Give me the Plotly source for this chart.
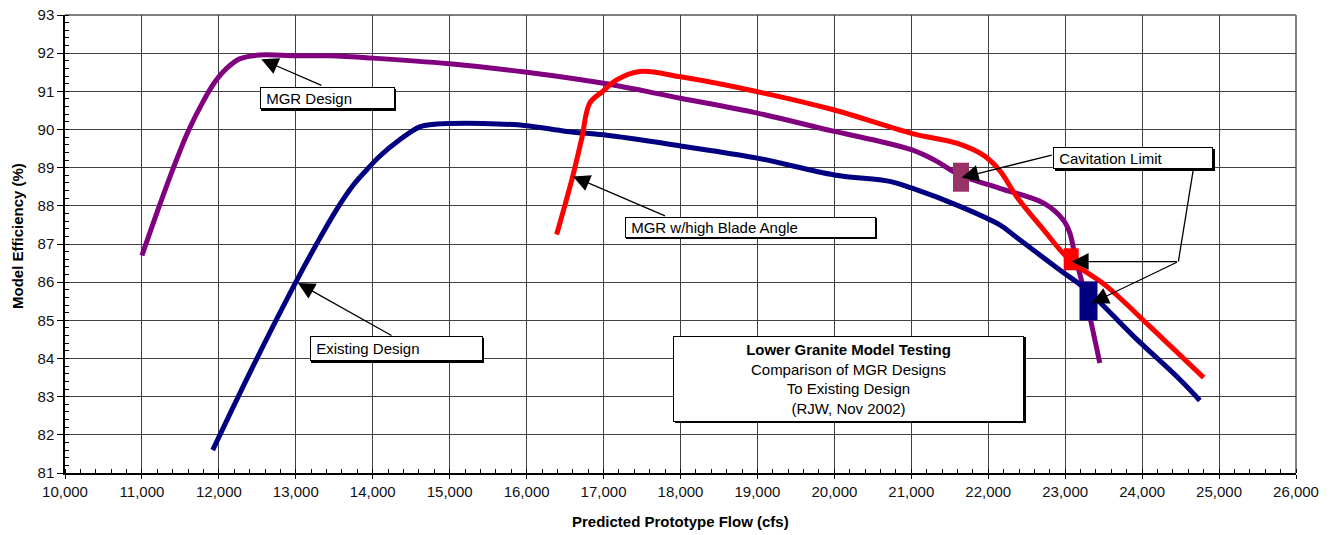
import plotly.graph_objects as go

# ---- Model test results: predicted prototype flow (cfs) vs model efficiency (%) ----
mgr_flow = [11000, 11200, 11400, 11600, 11800, 11950, 12100, 12270, 12530, 13000,
            13440, 14000, 15000, 16000, 17000, 18000, 19000, 20000, 20500, 21000, 21300,
            21640, 22150, 22720, 22975, 23060, 23130, 23210, 23320, 23450]
mgr_eff = [86.70, 87.85, 88.95, 89.95, 90.75, 91.25, 91.60, 91.85, 91.95, 91.93,
           91.93, 91.87, 91.72, 91.50, 91.21, 90.82, 90.43, 89.95, 89.73, 89.47, 89.20,
           88.80, 88.46, 88.07, 87.63, 87.29, 86.67, 86.06, 85.10, 83.88]

existing_flow = [11920, 12440, 13000, 13270, 13530, 13750, 13920, 14090, 14350, 14610, 14800,
                 15000, 15430, 16000, 16520, 17000, 18000, 19000, 20000, 20720, 21000, 21640,
                 22150, 22370, 22930, 23280, 23890, 24490, 24750]
existing_eff = [81.60, 83.78, 86.00, 87.00, 87.90, 88.55, 88.94, 89.30, 89.73, 90.07, 90.14,
                90.16, 90.16, 90.10, 89.95, 89.86, 89.57, 89.25, 88.81, 88.64, 88.47, 87.98,
                87.50, 87.17, 86.32, 85.80, 84.58, 83.45, 82.90]

blade_flow = [16390, 16600, 16720, 16820, 16990, 17170, 17470, 18000, 19000, 20000, 21000,
              21590, 21940, 22150, 22370, 22720, 23060, 23540, 24100, 24800]
blade_eff = [87.25, 88.78, 89.80, 90.69, 91.00, 91.30, 91.52, 91.38, 90.99, 90.51, 89.90,
             89.64, 89.32, 88.92, 88.24, 87.37, 86.58, 85.89, 84.84, 83.50]

# Cavitation limit points (MGR, MGR w/high blade angle, existing)
cav_flow = [21646, 23078, 23303]
cav_eff = [88.75, 86.60, 85.51]

x_ticks = list(range(10000, 26001, 1000))
y_ticks = list(range(81, 94))

FONT = "Liberation Sans, Arial, Helvetica, sans-serif"
PURPLE, NAVY, RED = "#800080", "#000080", "#FF0000"
CAV_COLORS = ["#993366", RED, NAVY]
CAV_BOX = [(16, 29), (15, 22), (18, 39)]  # marker width/height in px

W, H = 1335, 535
M_L, M_R, M_T, M_B = 65, 39, 15, 62
PLOT_W, PLOT_H = W - M_L - M_R, H - M_T - M_B

fig = go.Figure()
for fx, fy, col in [(existing_flow, existing_eff, NAVY),
                    (mgr_flow, mgr_eff, PURPLE),
                    (blade_flow, blade_eff, RED)]:
    fig.add_trace(go.Scatter(x=fx, y=fy, mode="lines",
                             line=dict(color=col, width=5, shape="spline", smoothing=1.0),
                             showlegend=False, hoverinfo="skip"))

shapes = []
for fx, fy, col, (w, h) in zip(cav_flow, cav_eff, CAV_COLORS, CAV_BOX):
    shapes.append(dict(type="rect", xref="x", yref="y", layer="above",
                       xsizemode="pixel", ysizemode="pixel",
                       xanchor=fx, yanchor=fy,
                       x0=-w / 2, x1=w / 2, y0=-h / 2, y1=h / 2,
                       fillcolor=col, line=dict(width=0)))

# plot frame: grey top and right edges
shapes.append(dict(type="line", xref="paper", yref="paper", x0=0, x1=1, y0=1, y1=1,
                   line=dict(color="#808080", width=2), layer="below"))
shapes.append(dict(type="line", xref="paper", yref="paper", x0=1, x1=1, y0=0, y1=1,
                   line=dict(color="#808080", width=2), layer="below"))
# connector leg from the Cavitation Limit label
shapes.append(dict(type="line", xref="x", yref="y", x0=24666, y0=88.96, x1=24471, y1=86.54,
                   line=dict(color="black", width=1.3), layer="above"))

annotations = []


def text_box(x, y, text, w, h, align="left"):
    # drop shadow, then the white label box
    annotations.append(dict(x=x, y=y, xref="x", yref="y", xanchor="left", yanchor="top",
                            text=" ", showarrow=False, width=w, height=h, borderpad=1,
                            borderwidth=1, bordercolor="black", bgcolor="black",
                            xshift=1.5, yshift=-1.5, font=dict(family=FONT, size=15)))
    annotations.append(dict(x=x, y=y, xref="x", yref="y", xanchor="left", yanchor="top",
                            text=text, showarrow=False, width=w, height=h, borderpad=1,
                            borderwidth=1, bordercolor="black", bgcolor="white",
                            align=align, valign="middle",
                            font=dict(family=FONT, size=15, color="black")))


def arrow(tip_x, tip_y, tail_x, tail_y):
    annotations.append(dict(x=tip_x, y=tip_y, ax=tail_x, ay=tail_y, xref="x", yref="y",
                            axref="x", ayref="y", text="", showarrow=True,
                            arrowhead=2, arrowsize=2.6, arrowwidth=1.3, arrowcolor="black",
                            standoff=0, startstandoff=0))


arrow(12551, 91.84, 13352, 91.14)
arrow(13027, 85.98, 14263, 84.58)
arrow(16603, 88.77, 17818, 87.72)
arrow(21654, 88.74, 22845, 89.34)
arrow(23085, 86.54, 24471, 86.54)
arrow(23345, 85.45, 24471, 86.54)

text_box(12529, 91.11, "\u00a0MGR Design", 131, 18)
text_box(13180, 84.58, "\u00a0Existing Design", 169, 21)
text_box(17275, 87.72, "\u00a0MGR w/high Blade Angle", 247, 17)
text_box(22845, 89.54, "\u00a0Cavitation Limit", 156, 18)
text_box(17905, 84.60,
         "<b>Lower Granite Model Testing</b><br>Comparison of MGR Designs<br>"
         "To Existing Design<br>(RJW, Nov 2002)", 347, 82, align="center")

# axis titles
annotations.append(dict(xref="paper", yref="paper", x=0.5,
                        y=-(521 - (H - M_B)) / PLOT_H,
                        xanchor="center", yanchor="middle", showarrow=False,
                        text="<b>Predicted Prototype Flow (cfs)</b>",
                        font=dict(family=FONT, size=15, color="black")))
annotations.append(dict(xref="paper", yref="paper", x=(18 - M_L) / PLOT_W,
                        y=((H - M_B) - 236) / PLOT_H, textangle=-90,
                        xanchor="center", yanchor="middle", showarrow=False,
                        text="<b>Model Efficiency (%)</b>",
                        font=dict(family=FONT, size=15, color="black")))

axis_common = dict(showline=True, linecolor="black", linewidth=1.5, automargin=False,
                   showgrid=True, gridcolor="#404040", gridwidth=1,
                   zeroline=False, ticks="outside", tickcolor="black",
                   tickfont=dict(family=FONT, size=15, color="#111"))

fig.update_layout(
    width=W, height=H, autosize=False,
    margin=dict(l=M_L, r=M_R, t=M_T, b=M_B, pad=0),
    paper_bgcolor="white", plot_bgcolor="white",
    font=dict(family=FONT, size=15, color="black"),
    xaxis=dict(range=[10000, 26000], tickvals=x_ticks, tickformat=",d", ticklen=4,
               minor=dict(dtick=200, ticks="inside", ticklen=4, tickcolor="black", showgrid=False),
               **axis_common),
    yaxis=dict(range=[81, 93], tickvals=y_ticks, ticklen=6,
               minor=dict(dtick=0.2, ticks="inside", ticklen=4, tickcolor="black", showgrid=False),
               **axis_common),
    shapes=shapes,
    annotations=annotations,
)

fig.write_html("out.html")
